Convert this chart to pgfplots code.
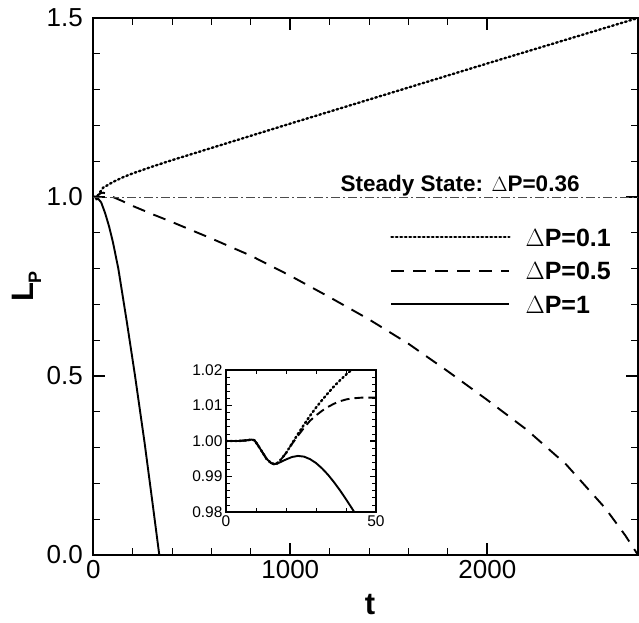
\documentclass[border=0pt]{standalone}
\usepackage{fontspec}
\setmainfont{Liberation Sans}
\usepackage{pgfplots}
\pgfplotsset{compat=1.18}

\begin{document}
\begin{tikzpicture}
\useasboundingbox (-93.3pt,-67pt) rectangle (545.7pt,555pt);
\begin{axis}[
  at={(0pt,0pt)}, anchor=south west,
  scale only axis, width=544.7pt, height=537pt,
  xmin=0, xmax=2765, ymin=0, ymax=1.5,
  xtick={0,1000,2000}, minor x tick num=4,
  ytick={0,0.5,1,1.5}, minor y tick num=4,
  axis line style={line width=2pt},
  major tick length=12pt, minor tick length=7pt,
  major tick style={line width=2pt, black},
  minor tick style={line width=1pt, black},
  /pgf/number format/assume math mode=true,
  tick label style={font=\fontsize{26}{26}\selectfont},
  y tick label style={xshift=-7pt, /pgf/number format/.cd, fixed, fixed zerofill, precision=1},
  x tick label style={yshift=-2pt, /pgf/number format/.cd, set thousands separator={}},
  xlabel={t},
  ylabel={L\raisebox{-8pt}{\fontsize{18}{18}\selectfont P}},
  label style={font=\fontsize{31}{31}\selectfont\bfseries},
  xlabel style={at={(axis description cs:0.508,-0.092)}, anchor=center, inner sep=0pt},
  ylabel style={at={(axis description cs:-0.1226,0.5)}, anchor=center},
  legend style={at={(rel axis cs:0.5447,0.609)}, anchor=north west, draw=none, fill=none,
    inner sep=0pt,
    font=\fontsize{25}{25}\selectfont\bfseries, row sep=15.5pt,
    nodes={inner sep=0pt, text height=18pt, text depth=0pt},
    /tikz/every odd column/.append style={column sep=15pt}},
  legend cell align=left,
  legend image code/.code={\draw[#1] (0pt,0pt) -- (118pt,0pt);},
]
\addplot[black, line width=2.4pt, line cap=round, dash pattern=on 1.6pt off 2.9pt] coordinates {
(0,1.000)(20,1.002)(50,1.026)(100,1.042)(150,1.055)(200,1.066)(300,1.085)(400,1.103)
(600,1.137)(800,1.171)(1000,1.205)(1500,1.289)(2000,1.373)(2500,1.456)(2765,1.5)};
\addlegendentry{$\Delta$P=0.1}
\addplot[black, line width=1.9pt, dash pattern=on 13pt off 9pt] coordinates {
(0,1)(20,1.002)(30,1.008)(40,1.011)(50,1.012)(75,1.008)(100,1.0)(150,0.988)(200,0.975)
(300,0.952)(400,0.93)(500,0.907)(600,0.884)(800,0.836)(1000,0.78)(1200,0.72)(1400,0.658)
(1600,0.59)(1800,0.513)(2000,0.433)(2200,0.35)(2400,0.253)(2600,0.13)(2700,0.055)(2765,0.0)};
\addlegendentry{$\Delta$P=0.5}
\addplot[black, line width=1.9pt] coordinates {
(0,1)(10,1.0)(16,0.9935)(25,0.995)(40,0.985)(60,0.955)(80,0.918)(100,0.873)(127,0.80)
(170,0.652)(212,0.5)(260,0.315)(300,0.148)(335,0.0)};
\addlegendentry{$\Delta$P=1}
\addplot[forget plot, black!70, line width=0.8pt, dash pattern=on 9pt off 3pt on 2pt off 3pt] coordinates {(0,1)(2765,1)};
\node[anchor=base, font=\fontsize{22.5}{22.5}\selectfont\bfseries] at (axis cs:1862,1.0) [yshift=6pt] {Steady State: $\Delta$P=0.36};
\end{axis}

\begin{axis}[
  at={(132.7pt,43pt)}, anchor=south west,
  scale only axis, width=150pt, height=142pt,
  axis background/.style={fill=white},
  xmin=0, xmax=50, ymin=0.98, ymax=1.02,
  xtick={0,50}, minor xtick={10,20,30,40},
  ytick={0.98,0.99,1.00,1.01,1.02}, minor y tick num=4,
  axis line style={line width=1.2pt},
  major tick length=6pt, minor tick length=4pt,
  major tick style={line width=1.2pt, black},
  minor tick style={line width=0.7pt, black},
  /pgf/number format/assume math mode=true,
  tick label style={font=\fontsize{15.5}{15.5}\selectfont},
  y tick label style={/pgf/number format/.cd, fixed, fixed zerofill, precision=2},
]
\addplot[black, line width=2.4pt, line cap=round, dash pattern=on 1.6pt off 2.9pt] coordinates {
(0,1.0)(4,1.0)(7,1.0002)(8.5,1.0004)(9.5,1.0002)(10.5,0.999)(12,0.997)(13.5,0.995)(15,0.9938)(16,0.9935)
(17,0.9937)(18,0.9945)(20,0.9966)(22,0.9993)(24,1.0020)(26,1.0046)(28,1.0071)(30,1.0094)(32,1.0115)
(34,1.0135)(36,1.0154)(38,1.0171)(40,1.0187)(42,1.0201)(45,1.022)(50,1.025)};
\addplot[black, line width=1.9pt, dash pattern=on 9pt off 5pt] coordinates {
(0,1.0)(4,1.0)(7,1.0002)(8.5,1.0004)(9.5,1.0002)(10.5,0.999)(12,0.997)(13.5,0.995)(15,0.9938)(16,0.9935)
(17,0.9937)(18,0.9945)(19,0.9955)(20,0.9966)(22,0.9992)(24,1.0015)(26,1.0037)(28,1.0057)(30,1.0072)
(32,1.0085)(34,1.0096)(36,1.0105)(38,1.0112)(40,1.0117)(42,1.012)(45,1.0122)(50,1.0122)};
\addplot[black, line width=1.9pt] coordinates {
(0,1.0)(4,1.0)(7,1.0002)(8.5,1.0004)(9.5,1.0002)(10.5,0.999)(12,0.997)(13.5,0.995)(15,0.9938)(16,0.9935)
(17,0.9936)(18,0.9940)(20,0.9948)(22,0.9955)(24,0.9958)(26,0.9956)(28,0.9949)(30,0.9938)(32,0.9923)
(34,0.9905)(36,0.9884)(38,0.9861)(40,0.9836)(42,0.981)(43.5,0.979)};
\end{axis}
\end{tikzpicture}
\end{document}
